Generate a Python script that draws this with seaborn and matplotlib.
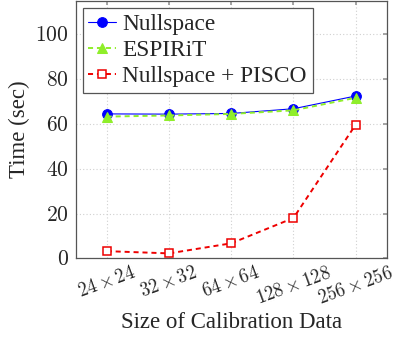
import matplotlib
matplotlib.use("Agg")
import matplotlib.pyplot as plt
import seaborn as sns
import pandas as pd

categories = ["24x24", "32x32", "64x64", "128x128", "256x256"]
tick_labels = [r"$24\times24$", r"$32\times32$", r"$64\times64$", r"$128\times128$", r"$256\times256$"]
y_ticks = [0, 20, 40, 60, 80, 100]
y_tick_labels = [r"$0$", r"$20$", r"$40$", r"$60$", r"$80$", r"$100$"]
nullspace = [64.5, 64.4, 64.7, 66.8, 72.5]
espirit = [63.3, 63.8, 64.5, 66.1, 71.7]
pisco = [3.2, 2.2, 6.7, 18.0, 59.7]

sns.set_theme(style="white")
plt.rcParams["font.family"] = ["Liberation Serif", "DejaVu Serif"]
plt.rcParams["mathtext.fontset"] = "cm"
plt.rcParams["axes.unicode_minus"] = False

fig = plt.figure(figsize=(4.0, 3.37), dpi=100)
ax = fig.add_axes([0.189, 0.2335, 0.778, 0.764])

ax.grid(True, color="#d0d0d0", linestyle=(0, (1, 2)), linewidth=0.8)
ax.set_axisbelow(True)

series = [
    ("Nullspace", nullspace, dict(color="#0000ff", marker="o", markersize=7, linewidth=0.8,
                                   linestyle="-", markerfacecolor="#0000ff", markeredgecolor="#0000ff")),
    ("ESPIRiT", espirit, dict(color="#8fee2a", marker="^", markersize=6.5, linewidth=1.4,
                               linestyle=(0, (2.6, 2)), markerfacecolor="#8fee2a", markeredgecolor="#8fee2a")),
    ("Nullspace + PISCO", pisco, dict(color="#ee0000", marker="s", markersize=6, linewidth=1.4,
                                       linestyle=(0, (2.6, 2)), markerfacecolor="white",
                                       markeredgecolor="#ee0000", markeredgewidth=1.1)),
]

for name, vals, kw in series:
    df = pd.DataFrame({"size": categories, "time": vals})
    sns.lineplot(data=df, x="size", y="time", ax=ax, label=name, sort=False, **kw)

ax.set_xlim(-0.5, 4.5)
ax.set_ylim(0, 115)
ax.set_yticks(y_ticks)
ax.set_yticklabels(y_tick_labels, fontsize=15.5)
ax.set_xticks(range(len(categories)))
ax.set_xticklabels(tick_labels, rotation=20, ha="center", fontsize=13.5)
ax.tick_params(direction="in", length=3, color="#999999", top=True, right=True, pad=5)
ax.tick_params(axis="x", pad=4)

for sp in ax.spines.values():
    sp.set_color("#555555")
    sp.set_linewidth(0.9)

ax.set_xlabel("Size of Calibration Data", fontsize=16.5, labelpad=3)
ax.set_ylabel("Time (sec)", fontsize=16.5, labelpad=4)

leg = ax.legend(loc="upper left", fontsize=16.8, frameon=True, fancybox=False,
                edgecolor="#555555", framealpha=1, handlelength=1.2,
                borderaxespad=0.3, borderpad=0.25, labelspacing=0.2, handletextpad=0.25)
leg.get_frame().set_linewidth(0.9)

fig.savefig("out.png", dpi=100)
